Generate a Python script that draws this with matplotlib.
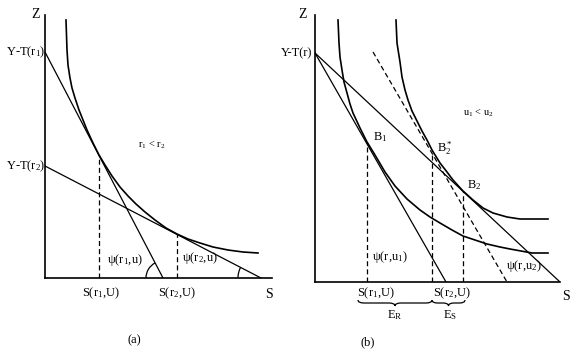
import matplotlib
matplotlib.use('Agg')
import matplotlib.pyplot as plt
import numpy as np
from matplotlib.patches import Arc, PathPatch
from matplotlib.path import Path

plt.rcParams['font.family'] = 'Liberation Serif'
plt.rcParams['mathtext.fontset'] = 'custom'
plt.rcParams['mathtext.rm'] = 'Liberation Serif'
plt.rcParams['mathtext.it'] = 'Liberation Serif'
plt.rcParams['mathtext.default'] = 'regular'

# ---------------- panel (a) data ----------------
a_smax, a_zmax = 22.7, 26.3
a_yt = [22.6, 11.2]          # Y-T(r1), Y-T(r2)
a_sint = [11.8, 21.6]        # where each budget line meets the S axis
a_s_opt = [5.4, 13.2]        # S(r1,U), S(r2,U)
a_z_opt = [12.3, 4.4]
a_curve_s = [2.1, 2.15, 2.2, 2.3, 2.5, 2.7, 3.0, 3.4, 3.8, 4.2, 4.8, 5.4, 6.0, 6.7,
             7.5, 8.3, 9.1, 10.0, 11.0, 12.1, 13.2, 14.3, 15.5, 16.8, 18.3, 19.8, 21.3]
a_curve_z = [25.8, 24.3, 22.8, 21.3, 20.0, 19.0, 18.0, 16.8, 15.8, 14.8, 13.5, 12.3, 11.3, 10.2,
             9.1, 8.2, 7.4, 6.6, 5.8, 5.0, 4.4, 3.9, 3.5, 3.1, 2.8, 2.6, 2.5]

# ---------------- panel (b) data ----------------
b_smax, b_zmax = 24.5, 26.7
b_yt = 22.9
b_sint = [13.1, 24.5]        # steep line, flat line
b_dash_s = [5.8, 19.2]
b_dash_z = [23.0, 0.0]
u1_s = [2.3, 2.4, 2.5, 2.7, 2.9, 3.2, 3.5, 3.8, 4.5, 5.2, 6.0, 7.0, 8.0, 9.2, 10.5,
        11.5, 12.5, 13.7, 14.8, 16.0, 17.2, 18.5, 19.5, 20.6, 21.7, 23.3]
u1_z = [26.2, 23.9, 22.5, 21.2, 20.0, 18.9, 17.8, 16.9, 15.4, 14.0, 12.7, 11.0, 9.6, 8.3, 7.2,
        6.5, 5.9, 5.2, 4.6, 4.2, 3.8, 3.5, 3.3, 3.1, 2.9, 2.9]
u2_s = [8.1, 8.2, 8.5, 8.7, 9.0, 9.3, 9.7, 10.2, 10.7, 11.2, 11.7, 12.5, 13.2, 13.8,
        14.8, 15.8, 16.8, 17.8, 19.2, 20.5, 21.9, 23.3]
u2_z = [26.2, 23.9, 22.0, 20.5, 19.2, 18.2, 17.1, 16.1, 15.1, 14.2, 13.2, 11.9, 11.0, 10.2,
        9.1, 8.2, 7.4, 6.9, 6.5, 6.3, 6.3, 6.3]
b_s_opt = [5.2, 11.7, 14.8]  # B1, B*2, B2
b_z_opt = [14.0, 13.0, 9.1]

FS = 9
W, H = 573, 354
fig = plt.figure(figsize=(5.73, 3.54), dpi=100)


def make_axes(x0, y0, x1, y1, smax, zmax):
    ax = fig.add_axes([x0 / W, 1 - y0 / H, (x1 - x0) / W, (y0 - y1) / H])
    ax.set_xlim(0, smax)
    ax.set_ylim(0, zmax)
    for sp in ['top', 'right']:
        ax.spines[sp].set_visible(False)
    for sp in ['left', 'bottom']:
        ax.spines[sp].set_linewidth(1.2)
    ax.set_xticks([])
    ax.set_yticks([])
    ax.patch.set_alpha(0)
    return ax


def brace(ax, x0, x1, y, h):
    xm = (x0 + x1) / 2
    d = min(0.6, (x1 - x0) / 6)
    verts = [(x0, y), (x0, y - h / 2), (x0 + d, y - h / 2),
             (xm - d, y - h / 2), (xm, y - h / 2), (xm, y - h),
             (xm, y - h / 2), (xm + d, y - h / 2),
             (x1 - d, y - h / 2), (x1, y - h / 2), (x1, y)]
    codes = [Path.MOVETO, Path.CURVE3, Path.CURVE3,
             Path.LINETO, Path.CURVE3, Path.CURVE3,
             Path.CURVE3, Path.CURVE3,
             Path.LINETO, Path.CURVE3, Path.CURVE3]
    ax.add_patch(PathPatch(Path(verts, codes), fill=False, lw=0.9, clip_on=False))


dash = (0, (4, 2.5))

# ============================================================
# (a)
# ============================================================
ax = make_axes(45, 278, 272, 15, a_smax, a_zmax)
for zi, si, r in zip(a_yt, a_sint, [1.7, 2.3]):
    ax.plot([0, si], [zi, 0], color='black', lw=0.9)
    ang = np.degrees(np.arctan2(zi, -si))
    ax.add_patch(Arc((si, 0), 2 * r, 2 * r, theta1=ang, theta2=180, lw=0.9))
ax.plot(a_curve_s, a_curve_z, color='black', lw=1.2)
for s, z in zip(a_s_opt, a_z_opt):
    ax.plot([s, s], [0, z], color='black', lw=0.9, linestyle=dash)

ax.text(-0.9, 26.3, 'Z', fontsize=FS + 1, ha='center', va='center')
ax.text(22.4, -1.7, 'S', fontsize=FS + 1, ha='center', va='center')
ax.text(0, a_yt[0], 'Y-T(r$_1$)', fontsize=FS, ha='right', va='center')
ax.text(0, a_yt[1], 'Y-T(r$_2$)', fontsize=FS, ha='right', va='center')
ax.text(10.7, 13.3, 'r$_1$ < r$_2$', fontsize=FS - 1.5, ha='center', va='center')
ax.text(8.0, 1.8, 'ψ(r$_1$,u)', fontsize=FS, ha='center', va='center')
ax.text(15.5, 2.0, 'ψ(r$_2$,u)', fontsize=FS, ha='center', va='center')
ax.text(5.6, -1.5, 'S(r$_1$,U)', fontsize=FS, ha='center', va='center')
ax.text(13.2, -1.5, 'S(r$_2$,U)', fontsize=FS, ha='center', va='center')
ax.text(8.9, -6.2, '(a)', fontsize=FS, ha='center', va='center')

# ============================================================
# (b)
# ============================================================
ax = make_axes(315, 282, 560, 15, b_smax, b_zmax)
for si in b_sint:
    ax.plot([0, si], [b_yt, 0], color='black', lw=0.9)
ax.plot(b_dash_s, b_dash_z, color='black', lw=0.9, linestyle=dash)
ax.plot(u1_s, u1_z, color='black', lw=1.2)
ax.plot(u2_s, u2_z, color='black', lw=1.2)
for s, z in zip(b_s_opt, b_z_opt):
    ax.plot([s, s], [0, z], color='black', lw=0.9, linestyle=dash)

ax.text(-1.2, 26.7, 'Z', fontsize=FS + 1, ha='center', va='center')
ax.text(25.1, -1.5, 'S', fontsize=FS + 1, ha='center', va='center')
ax.text(-0.3, b_yt, 'Y-T(r)', fontsize=FS, ha='right', va='center')
ax.text(5.8, 14.5, 'B$_1$', fontsize=FS, ha='left', va='center')
ax.text(12.2, 13.4, 'B$^*_2$', fontsize=FS, ha='left', va='center')
ax.text(15.2, 9.7, 'B$_2$', fontsize=FS, ha='left', va='center')
ax.text(16.3, 16.9, 'u$_1$ < u$_2$', fontsize=FS - 1.5, ha='center', va='center')
ax.text(7.5, 2.5, 'ψ(r,u$_1$)', fontsize=FS, ha='center', va='center')
ax.text(20.9, 1.6, 'ψ(r,u$_2$)', fontsize=FS, ha='center', va='center')
ax.text(6.1, -1.1, 'S(r$_1$,U)', fontsize=FS, ha='center', va='center')
ax.text(13.7, -1.1, 'S(r$_2$,U)', fontsize=FS, ha='center', va='center')
brace(ax, 4.3, 11.7, -1.8, 0.6)
brace(ax, 11.7, 15.0, -1.8, 0.6)
ax.text(8.0, -3.3, 'E$_R$', fontsize=FS, ha='center', va='center')
ax.text(13.5, -3.3, 'E$_S$', fontsize=FS, ha='center', va='center')
ax.text(5.3, -6.0, '(b)', fontsize=FS, ha='center', va='center')

fig.savefig('out.png', dpi=100)
